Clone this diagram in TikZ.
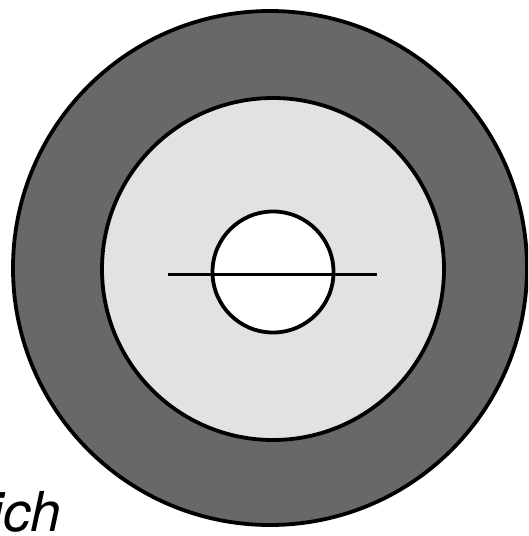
\documentclass[tikz,border=0pt]{standalone}
\usepackage{fontspec}
\setmainfont{TeX Gyre Heros}
\usepackage{xcolor}
\definecolor{ringdark}{RGB}{104,104,104}
\definecolor{ringlight}{RGB}{226,226,226}

\begin{document}
\begin{tikzpicture}[x=1pt, y=-1pt,
  ring/.style={draw=black, line width=3.8pt},
  axisline/.style={draw=black, line width=3pt},
  lbl/.style={font=\fontsize{55}{60}\selectfont\itshape, inner sep=0pt, anchor=base west},
]
\useasboundingbox (0,0) rectangle (528,536);
\clip (0,0) rectangle (528,536);

% === Rings ===
\coordinate (c_out) at (270,268);
\coordinate (c_mid) at (273,269);
\coordinate (c_in) at (273,272);

\filldraw[ring, fill=ringdark] (c_out) circle (257);
\filldraw[ring, fill=ringlight] (c_mid) circle (171);
\filldraw[ring, fill=white] (c_in) circle (60.5);

% Axis through inner circle
\coordinate (ax_l) at (168,274);
\coordinate (ax_r) at (377,274);
\draw[axisline] (ax_l) -- (ax_r);

% Label (cut at left, as in the scan)
\node[lbl] (tag) at (-9,531) {ich};
\end{tikzpicture}
\end{document}
